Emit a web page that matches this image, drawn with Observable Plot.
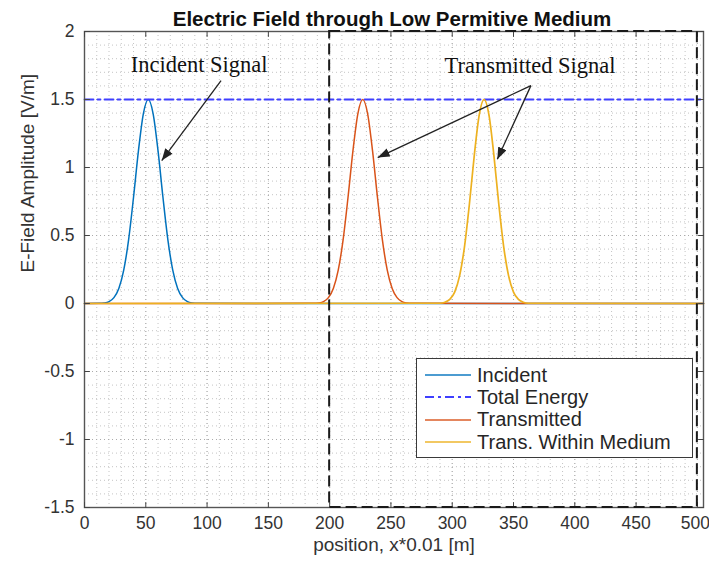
<!DOCTYPE html>
<html>
<head>
<meta charset="utf-8">
<script src="https://cdn.jsdelivr.net/npm/d3@7"></script>
<script src="https://cdn.jsdelivr.net/npm/@observablehq/plot@0.6"></script>
<style>
  body { margin: 0; background: #fff; }
  #wrap { position: relative; width: 709px; height: 571px; font-family: "Liberation Sans", Arial, sans-serif; }
  #legend { position: absolute; left: 416px; top: 358px; width: 277px; height: 100px; box-sizing: border-box;
            border: 1.3px solid #3a3a3a; background: #fff; padding-top: 5px; }
  .row { height: 22.3px; display: flex; align-items: center; }
  .row svg { margin-left: 8px; margin-right: 6px; flex: none; }
  .row span { font-size: 20px; color: #262626; white-space: nowrap; }
</style>
</head>
<body>
<div id="wrap"><div id="legend"></div></div>
<script>
// ---- data ----
const title = "Electric Field through Low Permitive Medium";
const xLabel = "position, x*0.01 [m]";
const yLabel = "E-Field Amplitude [V/m]";
const xTicks = [0, 50, 100, 150, 200, 250, 300, 350, 400, 450, 500];
const yTicks = [-1.5, -1, -0.5, 0, 0.5, 1, 1.5, 2];

const incidentX = [0, 12, 16, 20, 24, 28, 32, 36, 40, 44, 48, 52, 56, 60, 64, 68, 72, 76, 80, 84, 88, 92, 505];
const incidentY = [0, 0.001, 0.004, 0.014, 0.043, 0.110, 0.245, 0.470, 0.781, 1.122, 1.395, 1.5, 1.395, 1.122, 0.781, 0.470, 0.245, 0.110, 0.043, 0.014, 0.004, 0.001, 0];

const totalX = [0, 505];
const totalY = [1.5, 1.5];

const transX = [0, 187, 191, 195, 199, 203, 207, 211, 215, 219, 223, 227, 231, 235, 239, 243, 247, 251, 255, 259, 263, 267, 505];
const transY = [0, 0.001, 0.004, 0.014, 0.043, 0.110, 0.245, 0.470, 0.781, 1.122, 1.395, 1.5, 1.395, 1.122, 0.781, 0.470, 0.245, 0.110, 0.043, 0.014, 0.004, 0.001, 0];

const mediumX = [0, 290, 294, 298, 302, 306, 310, 314, 318, 322, 326, 330, 334, 338, 342, 346, 350, 354, 358, 362, 505];
const mediumY = [0, 0.002, 0.009, 0.030, 0.084, 0.203, 0.417, 0.730, 1.089, 1.385, 1.5, 1.385, 1.089, 0.730, 0.417, 0.203, 0.084, 0.030, 0.009, 0.002, 0];

const boxX = [200, 500];
const boxY = [-1.5, 2];

const noteText = ["Incident Signal", "Transmitted Signal"];
const noteX = [93.5, 363.5];
const noteY = [1.752, 1.745];

const arrowX1 = [111.4, 364.2, 364.2];
const arrowY1 = [1.639, 1.602, 1.602];
const arrowX2 = [63.0, 239.2, 336.8];
const arrowY2 = [1.051, 1.073, 1.060];

const legendLabels = ["Incident", "Total Energy", "Transmitted", "Trans. Within Medium"];
const seriesColors = ["#0072BD", "#3f3fff", "#D95319", "#EDB120"];
const seriesDash = [null, "9,4,3,4", null, null];

// ---- build tables ----
const zip = (xs, ys) => xs.map((x, i) => ({x, y: ys[i]}));
const incident = zip(incidentX, incidentY);
const total = zip(totalX, totalY);
const trans = zip(transX, transY);
const medium = zip(mediumX, mediumY);
const notes = noteText.map((t, i) => ({t, x: noteX[i], y: noteY[i]}));
const arrows = arrowX1.map((x1, i) => ({x1, y1: arrowY1[i], x2: arrowX2[i], y2: arrowY2[i]}));
const box = [{x1: boxX[0], x2: boxX[1], y1: boxY[0], y2: boxY[1]}];
const xMinor = d3.range(0, 505, 10);
const yMinor = d3.range(-15, 21).map(v => v / 10);

const tickShape = {draw(ctx, l) { ctx.moveTo(0, 0); ctx.lineTo(0, -l); }};

function filledArrow(color, context) {
  const m = d3.create("svg:marker")
    .attr("viewBox", "-12 -4.5 12 9")
    .attr("markerWidth", 12).attr("markerHeight", 9)
    .attr("markerUnits", "userSpaceOnUse")
    .attr("orient", "auto")
    .attr("fill", color).attr("stroke", "none");
  m.append("path").attr("d", "M-12,-4.5L0,0L-12,4.5Z");
  return m.node();
}

const gridStyle = {stroke: "#bdbdbd", strokeDasharray: "1,3", strokeWidth: 0.9};
const tickStyle = {stroke: "#444", strokeWidth: 1, length: 5, anchor: "start", shape: tickShape};
const tickFont = {fontSize: 17.5, fill: "#333"};

const chart = Plot.plot({
  width: 709,
  height: 571,
  marginLeft: 84,
  marginRight: 6,
  marginTop: 31,
  marginBottom: 64,
  x: {domain: [0, 505], axis: null},
  y: {domain: [-1.5, 2], axis: null},
  style: {fontFamily: "Liberation Sans, Arial, sans-serif", background: "white", overflow: "visible"},
  marks: [
    Plot.ruleX(xMinor, {x: d => d, ...gridStyle}),
    Plot.ruleY(yMinor, {y: d => d, ...gridStyle}),
    Plot.ruleX(xTicks, {x: d => d, ...gridStyle, stroke: "#a8a8a8"}),
    Plot.ruleY(yTicks, {y: d => d, ...gridStyle, stroke: "#a8a8a8"}),
    Plot.line(incident, {x: "x", y: "y", stroke: seriesColors[0], strokeWidth: 1.5, curve: "monotone-x"}),
    Plot.line(total, {x: "x", y: "y", stroke: seriesColors[1], strokeWidth: 1.8, strokeDasharray: seriesDash[1]}),
    Plot.line(trans, {x: "x", y: "y", stroke: seriesColors[2], strokeWidth: 1.5, curve: "monotone-x"}),
    Plot.line(medium, {x: "x", y: "y", stroke: seriesColors[3], strokeWidth: 1.7, curve: "monotone-x"}),
    Plot.frame({stroke: "#555", strokeWidth: 1.4}),
    Plot.vectorX(xTicks, {x: d => d, frameAnchor: "bottom", rotate: 0, ...tickStyle}),
    Plot.vectorX(xTicks, {x: d => d, frameAnchor: "top", rotate: 180, ...tickStyle}),
    Plot.vectorY(yTicks, {y: d => d, frameAnchor: "left", rotate: 90, ...tickStyle}),
    Plot.vectorY(yTicks, {y: d => d, frameAnchor: "right", rotate: -90, ...tickStyle}),
    Plot.rect(box, {x1: "x1", x2: "x2", y1: "y1", y2: "y2", fill: "none", stroke: "#1a1a1a", strokeWidth: 2, strokeDasharray: "11,5"}),
    Plot.link(arrows, {x1: "x1", y1: "y1", x2: "x2", y2: "y2", stroke: "#222", strokeWidth: 1.3, markerEnd: filledArrow}),
    Plot.text(notes, {x: "x", y: "y", text: "t", fontFamily: "Liberation Serif, Times New Roman, serif", fontSize: 22.5, fill: "#111"}),
    Plot.text(xTicks.slice(0, -1), {x: d => d, frameAnchor: "bottom", dy: 21, text: d => String(d), ...tickFont}),
    Plot.text(xTicks.slice(-1), {x: d => d, frameAnchor: "bottom", dy: 21, dx: -2, text: d => String(d), ...tickFont}),
    Plot.text(yTicks, {y: d => d, frameAnchor: "left", dx: -10, textAnchor: "end", text: d => String(d), ...tickFont}),
    Plot.text([xLabel], {frameAnchor: "bottom", dy: 43, text: d => d, fontSize: 19, fill: "#333"}),
    Plot.text([yLabel], {frameAnchor: "left", dx: -57, dy: 3, rotate: -90, text: d => d, fontSize: 19, fill: "#333"}),
    Plot.text([title], {frameAnchor: "top", dy: -20.5, dx: -2, text: d => d, fontSize: 20.5, fontWeight: "bold", fill: "#111"})
  ]
});

const wrap = document.getElementById("wrap");
wrap.insertBefore(chart, wrap.firstChild);

// legend
const legend = document.getElementById("legend");
legendLabels.forEach((lab, i) => {
  const row = document.createElement("div");
  row.className = "row";
  const dash = seriesDash[i] ? ` stroke-dasharray="${seriesDash[i]}"` : "";
  row.innerHTML = `<svg width="46" height="6"><line x1="0" y1="3" x2="46" y2="3" stroke="${seriesColors[i]}" stroke-width="2" stroke-opacity="${seriesDash[i] ? 1 : 0.7}"${dash}/></svg><span>${lab}</span>`;
  legend.appendChild(row);
});
</script>
</body>
</html>
